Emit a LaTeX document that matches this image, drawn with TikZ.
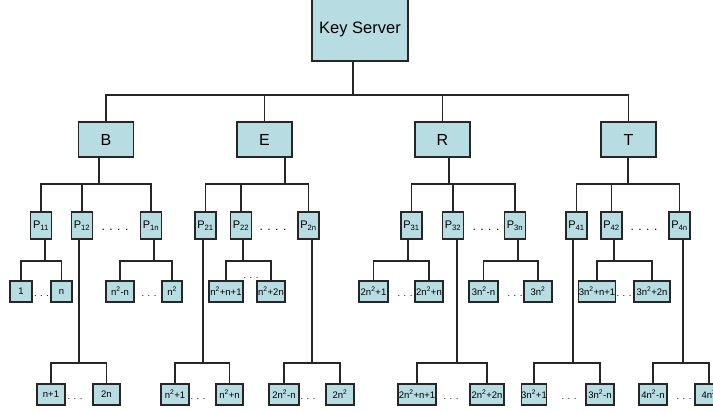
\documentclass[tikz,border=0pt]{standalone}
\usepackage{fontspec}
\setmainfont{Liberation Sans}
\definecolor{azulclaro}{RGB}{183,221,226}
\newcommand{\nsq}{n\textsuperscript{2}}

\begin{document}
\begin{tikzpicture}[x=1pt, y=-1pt,
		    every node/.style={draw=black!85, fill=azulclaro, line width=1.1pt, inner sep=0pt},
		    line width=1.3pt, draw=black!85
		]
		\tikzset{
		    servidor/.style={minimum width=96pt, minimum height=63pt, font=\fontsize{16.5}{18}\selectfont},
		    grupo/.style={minimum width=55pt, minimum height=35pt, font=\fontsize{16}{18}\selectfont},
		    membro/.style={minimum width=21pt, minimum height=27pt, font=\fontsize{11}{12}\selectfont},
		    folha/.style={minimum height=21pt, font=\fontsize{9.5}{10}\selectfont},
		    pontos/.style={draw=none, fill=none, font=\fontsize{9.5}{10}\selectfont}
		}
		\useasboundingbox (0,0) rectangle (713,412);
		\clip (0,0) rectangle (713,412);

		\node[servidor] (KS) at (360,29.5) {Key Server};
		\foreach \n/\x in {B/106, E/264.5, R/442.5, T/628.5}
		    \node[grupo] (\n) at (\x,139.5) {\n};

		\foreach \n/\x/\t in {P11/41/11, P12/82/12, P1n/151/1n, P21/205.5/21, P22/241/22, P2n/308.5/2n,
		                      P31/411.5/31, P32/453/32, P3n/515/3n, P41/576.5/41, P42/611.5/42, P4n/679.5/4n}
		    \node[membro] (\n) at (\x,225.5) {P\textsubscript{\t}};
		\foreach \x in {115, 273, 486, 644}
		    \node[pontos, font=\fontsize{12}{12}\selectfont] at (\x,230) {. . . .};

		\node[pontos] at (251,278) {. . .};
		\foreach \n/\x/\w/\t in {l11a/21/22/1, l11b/61.5/21/n, l1na/120/28/\nsq-n, l1nb/172/20/\nsq,
		                         l22a/226/34/\nsq+n+1, l22b/271/28/\nsq+2n, l31a/373.5/29/2\nsq+1, l31b/429/28/2\nsq+n,
		                         l3na/483.5/29/3\nsq-n, l3nb/538/28/3\nsq, l42a/597/36/3\nsq+n+1, l42b/652/36/3\nsq+2n}
		    \node[folha, minimum width=\w pt] (\n) at (\x,291.5) {\t};
		\foreach \x in {41.5, 149, 405, 515, 624}
		    \node[pontos] at (\x,296) {. . .};

		\foreach \n/\x/\w/\t in {l12a/51/28/n+1, l12b/106.5/27/2n, l21a/175/28/\nsq+1, l21b/229.5/27/\nsq+n,
		                         l2na/284/30/2\nsq-n, l2nb/340/28/2\nsq, l32a/417/38/2\nsq+n+1, l32b/487/34/2\nsq+2n,
		                         l41a/534/22/3\nsq+1, l41b/600/28/3\nsq-n, l4na/653/28/4\nsq-n, l4nb/709/28/4\nsq}
		    \node[folha, minimum width=\w pt] (\n) at (\x,394.5) {\t};
		\foreach \x in {75, 198, 308, 451, 569, 684}
		    \node[pontos] at (\x,399) {. . .};

		\coordinate (bK) at (353,95);
		\foreach \b/\x/\y in {bB/99/184, bE/285/184, bR/449/184, bT/628/184,
		                      b11/45/261, b1n/154/261, b22/243/261, b31/408/261, b3n/518/261, b42/614/261,
		                      b12/79/363, b21/203/363, b2n/312/363, b32/457/363, b41/573/363, b4n/683/363}
		    \coordinate (\b) at (\x,\y);

		\draw (KS.south -| bK) -- (bK);
		\draw (B.north) |- (bK) -| (T.north);
		\draw (E.north) -- (E.north |- bK);
		\draw (R.north) -- (R.north |- bK);

		\foreach \p/\b/\u/\v in {B/bB/P11/P1n, E/bE/P21/P2n, R/bR/P31/P3n, T/bT/P41/P4n,
		                         P11/b11/l11a/l11b, P1n/b1n/l1na/l1nb, P22/b22/l22a/l22b,
		                         P31/b31/l31a/l31b, P3n/b3n/l3na/l3nb, P42/b42/l42a/l42b,
		                         P12/b12/l12a/l12b, P21/b21/l21a/l21b, P2n/b2n/l2na/l2nb,
		                         P32/b32/l32a/l32b, P41/b41/l41a/l41b, P4n/b4n/l4na/l4nb}
		{
		    \draw (\p.south -| \b) -- (\b);
		    \draw (\u.north) |- (\b) -| (\v.north);
		}
		\foreach \m/\b in {P12/bB, P22/bE, P32/bR, P42/bT}
		    \draw (\m.north) -- (\m.north |- \b);
		\end{tikzpicture}
\end{document}
